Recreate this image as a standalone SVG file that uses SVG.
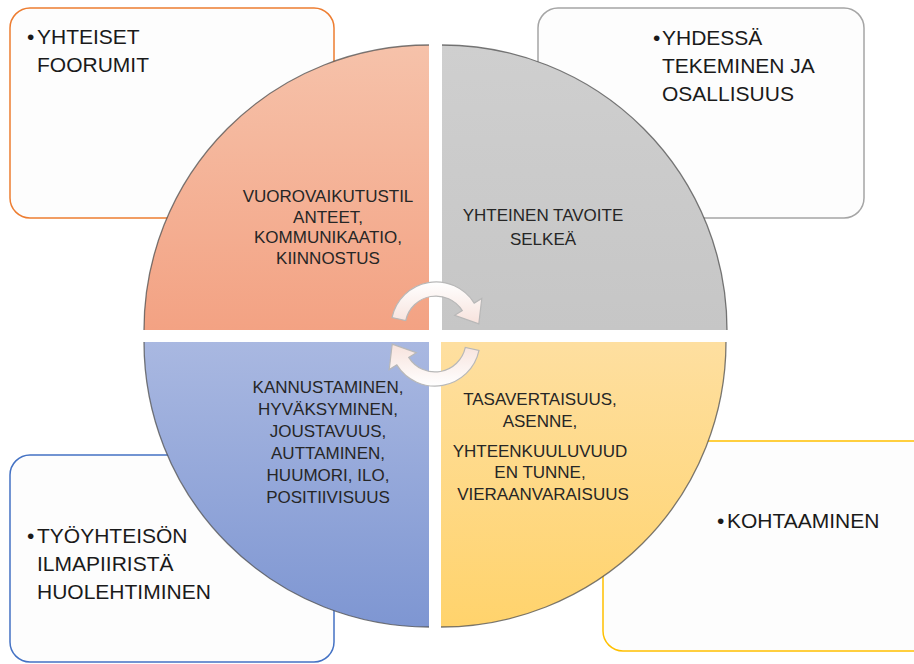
<svg xmlns="http://www.w3.org/2000/svg" width="914" height="664" viewBox="0 0 914 664">
<defs>
<linearGradient id="gO" x1="0" y1="45" x2="0" y2="330" gradientUnits="userSpaceOnUse"><stop offset="0" stop-color="#f6c2aa"/><stop offset="1" stop-color="#f3a283"/></linearGradient>
<linearGradient id="gG" x1="0" y1="45" x2="0" y2="330" gradientUnits="userSpaceOnUse"><stop offset="0" stop-color="#cfcfcf"/><stop offset="1" stop-color="#c6c6c6"/></linearGradient>
<linearGradient id="gB" x1="0" y1="342" x2="0" y2="627" gradientUnits="userSpaceOnUse"><stop offset="0" stop-color="#a9b8e1"/><stop offset="1" stop-color="#7e96d2"/></linearGradient>
<linearGradient id="gY" x1="0" y1="342" x2="0" y2="627" gradientUnits="userSpaceOnUse"><stop offset="0" stop-color="#fedfa0"/><stop offset="1" stop-color="#ffd36c"/></linearGradient>
<linearGradient id="gA" x1="0" y1="0" x2="0" y2="1"><stop offset="0" stop-color="#ffffff"/><stop offset="1" stop-color="#f7e2dc"/></linearGradient>
</defs>
<style>
.box{fill:#fdfdfd;stroke-width:1.5}
.bt{font-family:"Liberation Sans",Arial,sans-serif;font-size:21px;fill:#1a1a1a}
.qt{font-family:"Liberation Sans",Arial,sans-serif;font-size:17px;fill:#262626;text-anchor:middle}
.edge{fill:none;stroke:#4d4d4d;stroke-width:1.3;stroke-opacity:0.75}
.arr{fill:url(#gA);stroke:#b8b8b8;stroke-width:1.2}
</style>
<g id="box-yhteiset">
<rect class="box" x="10" y="8" width="324" height="210" rx="20" stroke="#ed7d31"/>
<text class="bt" y="44"><tspan x="27">•</tspan><tspan x="37">YHTEISET</tspan></text>
<text class="bt" x="37" y="72">FOORUMIT</text>
</g>
<g id="box-yhdessa">
<rect class="box" x="538" y="8" width="326" height="210" rx="20" stroke="#a5a5a5"/>
<text class="bt" y="45"><tspan x="653">•</tspan><tspan x="662">YHDESSÄ</tspan></text>
<text class="bt" x="662" y="73">TEKEMINEN JA</text>
<text class="bt" x="662" y="101">OSALLISUUS</text>
</g>
<g id="box-tyoyhteison">
<rect class="box" x="10" y="455" width="324" height="207" rx="20" stroke="#4472c4"/>
<text class="bt" y="543"><tspan x="27">•</tspan><tspan x="37">TYÖYHTEISÖN</tspan></text>
<text class="bt" x="37" y="571">ILMAPIIRISTÄ</text>
<text class="bt" x="37" y="599">HUOLEHTIMINEN</text>
</g>
<g id="box-kohtaaminen">
<rect class="box" x="603" y="441" width="330" height="210" rx="20" stroke="#ffc000"/>
<text class="bt" y="528"><tspan x="717">•</tspan><tspan x="727">KOHTAAMINEN</tspan></text>
</g>
<g id="q-orange">
<path d="M429 330 L144 330 A285 285 0 0 1 429 45 Z" fill="url(#gO)"/>
<path class="edge" d="M144 330 A285 285 0 0 1 429 45"/>
<text class="qt" x="328" y="202">VUOROVAIKUTUSTIL</text>
<text class="qt" x="328" y="222.5">ANTEET,</text>
<text class="qt" x="328" y="243">KOMMUNIKAATIO,</text>
<text class="qt" x="328" y="263.5">KIINNOSTUS</text>
</g>
<g id="q-gray">
<path d="M442 330 L442 45 A285 285 0 0 1 727 330 Z" fill="url(#gG)"/>
<path class="edge" d="M442 45 A285 285 0 0 1 727 330"/>
<text class="qt" x="543" y="221">YHTEINEN TAVOITE</text>
<text class="qt" x="543" y="245">SELKEÄ</text>
</g>
<g id="q-blue">
<path d="M429 342 L429 627 A285 285 0 0 1 144 342 Z" fill="url(#gB)"/>
<path class="edge" d="M429 627 A285 285 0 0 1 144 342"/>
<text class="qt" x="328" y="393">KANNUSTAMINEN,</text>
<text class="qt" x="328" y="415">HYVÄKSYMINEN,</text>
<text class="qt" x="328" y="437">JOUSTAVUUS,</text>
<text class="qt" x="328" y="459">AUTTAMINEN,</text>
<text class="qt" x="328" y="481">HUUMORI, ILO,</text>
<text class="qt" x="328" y="503">POSITIIVISUUS</text>
</g>
<g id="q-yellow">
<path d="M441 342 L726 342 A285 285 0 0 1 441 627 Z" fill="url(#gY)"/>
<path class="edge" d="M726 342 A285 285 0 0 1 441 627"/>
<text class="qt" x="540" y="405">TASAVERTAISUUS,</text>
<text class="qt" x="540" y="427">ASENNE,</text>
<text class="qt" x="540" y="457">YHTEENKUULUVUUD</text>
<text class="qt" x="540" y="478">EN TUNNE,</text>
<text class="qt" x="543" y="500">VIERAANVARAISUUS</text>
</g>
<g id="connectors">
<path class="arr" d="M392 317.6 A45 45 0 0 1 474.2 303.1 L481.8 298.4 L478.8 323.9 L454.7 315.3 L462.3 310.6 A31 31 0 0 0 405.7 320.6 Z"/>
<path class="arr" transform="rotate(180 435.5 334)" d="M392 317.6 A45 45 0 0 1 474.2 303.1 L481.8 298.4 L478.8 323.9 L454.7 315.3 L462.3 310.6 A31 31 0 0 0 405.7 320.6 Z"/>
</g>
</svg>
